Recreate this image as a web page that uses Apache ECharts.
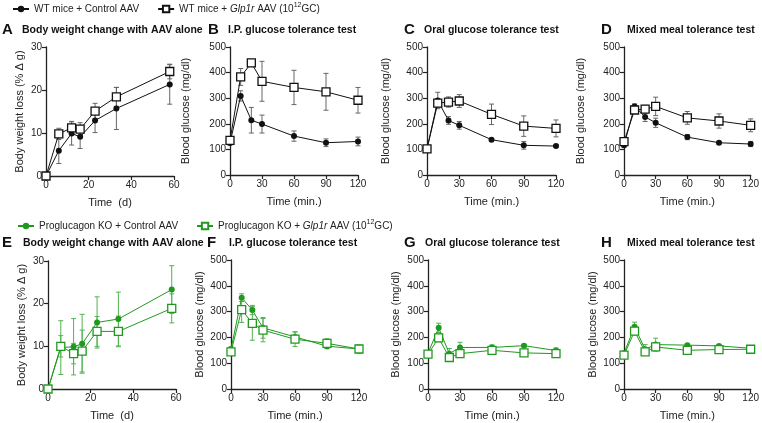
<!DOCTYPE html>
<html>
<head>
<meta charset="utf-8">
<script src="https://cdn.jsdelivr.net/npm/echarts@6/dist/echarts.min.js"></script>
<style>
  html, body { margin: 0; padding: 0; background: #fff; }
  #chart { width: 762px; height: 423px; }
</style>
</head>
<body>
<div id="chart"></div>
<script>
// time points
var bwDays = [0, 6, 12, 16, 23, 33, 58];
var testMins = [0, 10, 20, 30, 60, 90, 120];

// A - WT body weight
var wtCtrlBW = [0, 5.9, 9.9, 9.1, 12.9, 15.7, 21.3];
var wtCtrlBWErr = [0, 3, 2.7, 2.7, 2.8, 4.9, 4.6];
var wtGlpBW = [0, 9.8, 11.2, 10.9, 15.1, 18.4, 24.3];
var wtGlpBWErr = [0, 1.3, 1.5, 1.5, 1.8, 2.2, 1.7];
// B - WT IP GTT
var wtCtrlIP = [125, 309, 214, 199, 152, 126, 131];
var wtCtrlIPErr = [8, 20, 50, 35, 20, 15, 17];
var wtGlpIP = [135, 383, 438, 366, 342, 325, 292];
var wtGlpIPErr = [8, 33, 8, 78, 67, 72, 50];
// C - WT oral GTT
var wtCtrlOral = [102, 291, 213, 194, 138, 116, 113];
var wtCtrlOralErr = [5, 32, 15, 15, 5, 15, 5];
var wtGlpOral = [102, 281, 285, 289, 237, 191, 182];
var wtGlpOralErr = [5, 15, 20, 25, 40, 40, 33];
// D - WT mixed meal
var wtCtrlMeal = [116, 268, 227, 204, 148, 126, 121];
var wtCtrlMealErr = [8, 10, 18, 18, 10, 5, 10];
var wtGlpMeal = [130, 254, 257, 268, 223, 211, 194];
var wtGlpMealErr = [10, 12, 15, 36, 25, 28, 25];
// E - KO body weight
var koCtrlBW = [0, 9.7, 9.9, 10.6, 15.6, 16.4, 23.3];
var koCtrlBWErr = [0, 6.3, 6.6, 6.9, 6, 6.3, 5.6];
var koGlpBW = [0, 10, 8.3, 8.9, 13.5, 13.5, 18.9];
var koGlpBWErr = [0, 2.5, 2.4, 4.9, 3.5, 3.6, 3.4];
// F - KO IP GTT
var koCtrlIP = [155, 354, 306, 237, 202, 166, 155];
var koCtrlIPErr = [8, 15, 18, 40, 20, 10, 15];
var koGlpIP = [144, 308, 254, 228, 193, 177, 155];
var koGlpIPErr = [8, 50, 65, 45, 28, 18, 15];
// G - KO oral GTT
var koCtrlOral = [139, 237, 137, 161, 161, 168, 149];
var koCtrlOralErr = [8, 18, 20, 20, 10, 5, 10];
var koGlpOral = [135, 198, 122, 137, 150, 140, 137];
var koGlpOralErr = [8, 15, 10, 15, 10, 5, 10];
// H - KO mixed meal
var koCtrlMeal = [139, 241, 154, 172, 170, 167, 158];
var koCtrlMealErr = [8, 18, 18, 25, 5, 5, 5];
var koGlpMeal = [131, 224, 144, 163, 150, 153, 154];
var koGlpMealErr = [8, 15, 10, 15, 8, 5, 5];

var FONT = '"Liberation Sans", Arial, sans-serif';
var BLACK = '#111';
var GREEN = '#1f9a1f';

var bwName = 'Body weight loss (% \u0394 g)';
var bgName = 'Blood glucose (mg/dl)';

var panels = [
  {letter: 'A', title: 'Body weight change with AAV alone', lx: 2, tx: 22, ty: 22, g: [46, 47, 128, 129], bw: true, yGap: 21,
   x: bwDays, c: [wtCtrlBW, wtCtrlBWErr], s: [wtGlpBW, wtGlpBWErr], green: false},
  {letter: 'B', title: 'I.P. glucose tolerance test', lx: 208, tx: 228, ty: 22, g: [230, 47, 128, 128], yGap: 39,
   x: testMins, c: [wtCtrlIP, wtCtrlIPErr], s: [wtGlpIP, wtGlpIPErr], green: false},
  {letter: 'C', title: 'Oral glucose tolerance test', lx: 404, tx: 424, ty: 22, g: [427, 47, 129, 128], yGap: 36,
   x: testMins, c: [wtCtrlOral, wtCtrlOralErr], s: [wtGlpOral, wtGlpOralErr], green: false},
  {letter: 'D', title: 'Mixed meal tolerance test', lx: 601, tx: 627, ty: 22, g: [624, 47, 129, 128], yGap: 38,
   x: testMins, c: [wtCtrlMeal, wtCtrlMealErr], s: [wtGlpMeal, wtGlpMealErr], green: false},
  {letter: 'E', title: 'Body weight change with AAV alone', lx: 2, tx: 23, ty: 235, g: [48, 261, 128, 128], bw: true, yGap: 21,
   x: bwDays, c: [koCtrlBW, koCtrlBWErr], s: [koGlpBW, koGlpBWErr], green: true},
  {letter: 'F', title: 'I.P. glucose tolerance test', lx: 207, tx: 229, ty: 235, g: [231, 260, 128, 129], yGap: 26,
   x: testMins, c: [koCtrlIP, koCtrlIPErr], s: [koGlpIP, koGlpIPErr], green: true},
  {letter: 'G', title: 'Oral glucose tolerance test', lx: 404, tx: 425, ty: 235, g: [428, 260, 128, 129], yGap: 27,
   x: testMins, c: [koCtrlOral, koCtrlOralErr], s: [koGlpOral, koGlpOralErr], green: true},
  {letter: 'H', title: 'Mixed meal tolerance test', lx: 601, tx: 627, ty: 235, g: [624, 260, 129, 129], yGap: 26,
   x: testMins, c: [koCtrlMeal, koCtrlMealErr], s: [koGlpMeal, koGlpMealErr], green: true}
];

function errItem(color) {
  return function (params, api) {
    var x = api.value(0), y = api.value(1), e = api.value(2);
    if (!e) return null;
    var hi = api.coord([x, y + e]);
    var lo = api.coord([x, y - e]);
    var w = 2.5;
    var st = {stroke: color, lineWidth: 1};
    return {
      type: 'group',
      children: [
        {type: 'line', shape: {x1: hi[0], y1: hi[1], x2: lo[0], y2: lo[1]}, style: st},
        {type: 'line', shape: {x1: hi[0] - w, y1: hi[1], x2: hi[0] + w, y2: hi[1]}, style: st},
        {type: 'line', shape: {x1: lo[0] - w, y1: lo[1], x2: lo[0] + w, y2: lo[1]}, style: st}
      ]
    };
  };
}

var grids = [], xAxes = [], yAxes = [], series = [], titles = [];

panels.forEach(function (p, i) {
  var axisLine = {lineStyle: {color: '#222', width: 1.3}};
  var axisTick = {show: true, length: 4, lineStyle: {color: '#222', width: 1.2}};
  var axisLabel = {color: '#222', fontSize: 10, fontFamily: FONT, margin: 4};
  grids.push({left: p.g[0], top: p.g[1], width: p.g[2], height: p.g[3]});
  xAxes.push({
    gridIndex: i, type: 'value', min: 0, max: p.bw ? 60 : 120, interval: p.bw ? 20 : 30,
    name: p.bw ? 'Time  (d)' : 'Time (min.)', nameLocation: 'middle', nameGap: 21,
    nameTextStyle: {color: '#222', fontSize: 11, fontFamily: FONT},
    axisLine: axisLine, axisTick: axisTick, axisLabel: axisLabel, splitLine: {show: false}
  });
  yAxes.push({
    gridIndex: i, type: 'value', min: 0, max: p.bw ? 30 : 500, interval: p.bw ? 10 : 100,
    name: p.bw ? bwName : bgName, nameLocation: 'middle', nameGap: p.yGap,
    nameTextStyle: {color: '#222', fontSize: 11, fontFamily: FONT},
    axisLine: {show: true, lineStyle: {color: '#222', width: 1.3}}, axisTick: axisTick, axisLabel: axisLabel,
    splitLine: {show: false}
  });

  var col = p.green ? GREEN : BLACK;
  var errCol = p.green ? '#52b352' : '#666';
  var nameC = p.green ? 'koCtrl' : 'wtCtrl';
  var nameS = p.green ? 'koGlp' : 'wtGlp';

  [[p.c, nameC, 'circle'], [p.s, nameS, 'rect']].forEach(function (d) {
    var vals = d[0][0], errs = d[0][1];
    series.push({
      type: 'custom', name: d[1] + 'Err', xAxisIndex: i, yAxisIndex: i, z: 1, silent: true,
      encode: {x: 0, y: 1},
      renderItem: errItem(errCol),
      data: p.x.map(function (t, k) { return [t, vals[k], errs[k]]; })
    });
  });
  [[p.c, nameC, 'circle'], [p.s, nameS, 'rect']].forEach(function (d) {
    var vals = d[0][0];
    var open = d[2] === 'rect';
    series.push({
      type: 'line', name: d[1], xAxisIndex: i, yAxisIndex: i, z: 3,
      symbol: d[2], symbolSize: open ? 8 : 6,
      lineStyle: {color: col, width: 1},
      itemStyle: {color: open ? '#fff' : col, borderColor: col, borderWidth: open ? 1.3 : 0},
      data: p.x.map(function (t, k) { return [t, vals[k]]; })
    });
  });

  titles.push({text: p.letter, left: p.lx, top: p.ty, padding: 0,
    textStyle: {fontSize: 15, fontWeight: 'bold', color: '#111', fontFamily: FONT}});
  titles.push({text: p.title, left: p.tx, top: p.ty + 3, padding: 0,
    textStyle: {fontSize: 10.5, fontWeight: 'bold', color: '#111', fontFamily: FONT}});
});

var legendNames = {
  wtCtrl: '{n|WT mice + Control AAV}',
  wtGlp: '{n|WT mice + }{i|Glp1r}{n| AAV (10}{s|12}{n|GC)}',
  koCtrl: '{n|Proglucagon KO + Control AAV}',
  koGlp: '{n|Proglucagon KO + }{i|Glp1r}{n| AAV (10}{s|12}{n|GC)}'
};
var rich = {
  n: {fontSize: 10, fontFamily: FONT, color: '#222', lineHeight: 14},
  i: {fontSize: 10, fontFamily: FONT, color: '#222', fontStyle: 'italic', lineHeight: 14},
  s: {fontSize: 7, fontFamily: FONT, color: '#222', verticalAlign: 'top', lineHeight: 7}
};

var option = {
  animation: false,
  backgroundColor: '#fff',
  title: titles,
  legend: [
    {data: ['wtCtrl', 'wtGlp'], left: 12, top: 2, padding: 0, itemWidth: 16, itemHeight: 8, itemGap: 18,
     formatter: function (n) { return legendNames[n]; }, textStyle: {rich: rich}, selectedMode: false},
    {data: ['koCtrl', 'koGlp'], left: 17, top: 219, padding: 0, itemWidth: 16, itemHeight: 8, itemGap: 18,
     formatter: function (n) { return legendNames[n]; }, textStyle: {rich: rich}, selectedMode: false}
  ],
  grid: grids,
  xAxis: xAxes,
  yAxis: yAxes,
  series: series
};

var myChart = echarts.init(document.getElementById('chart'));
myChart.setOption(option);
</script>
</body>
</html>
